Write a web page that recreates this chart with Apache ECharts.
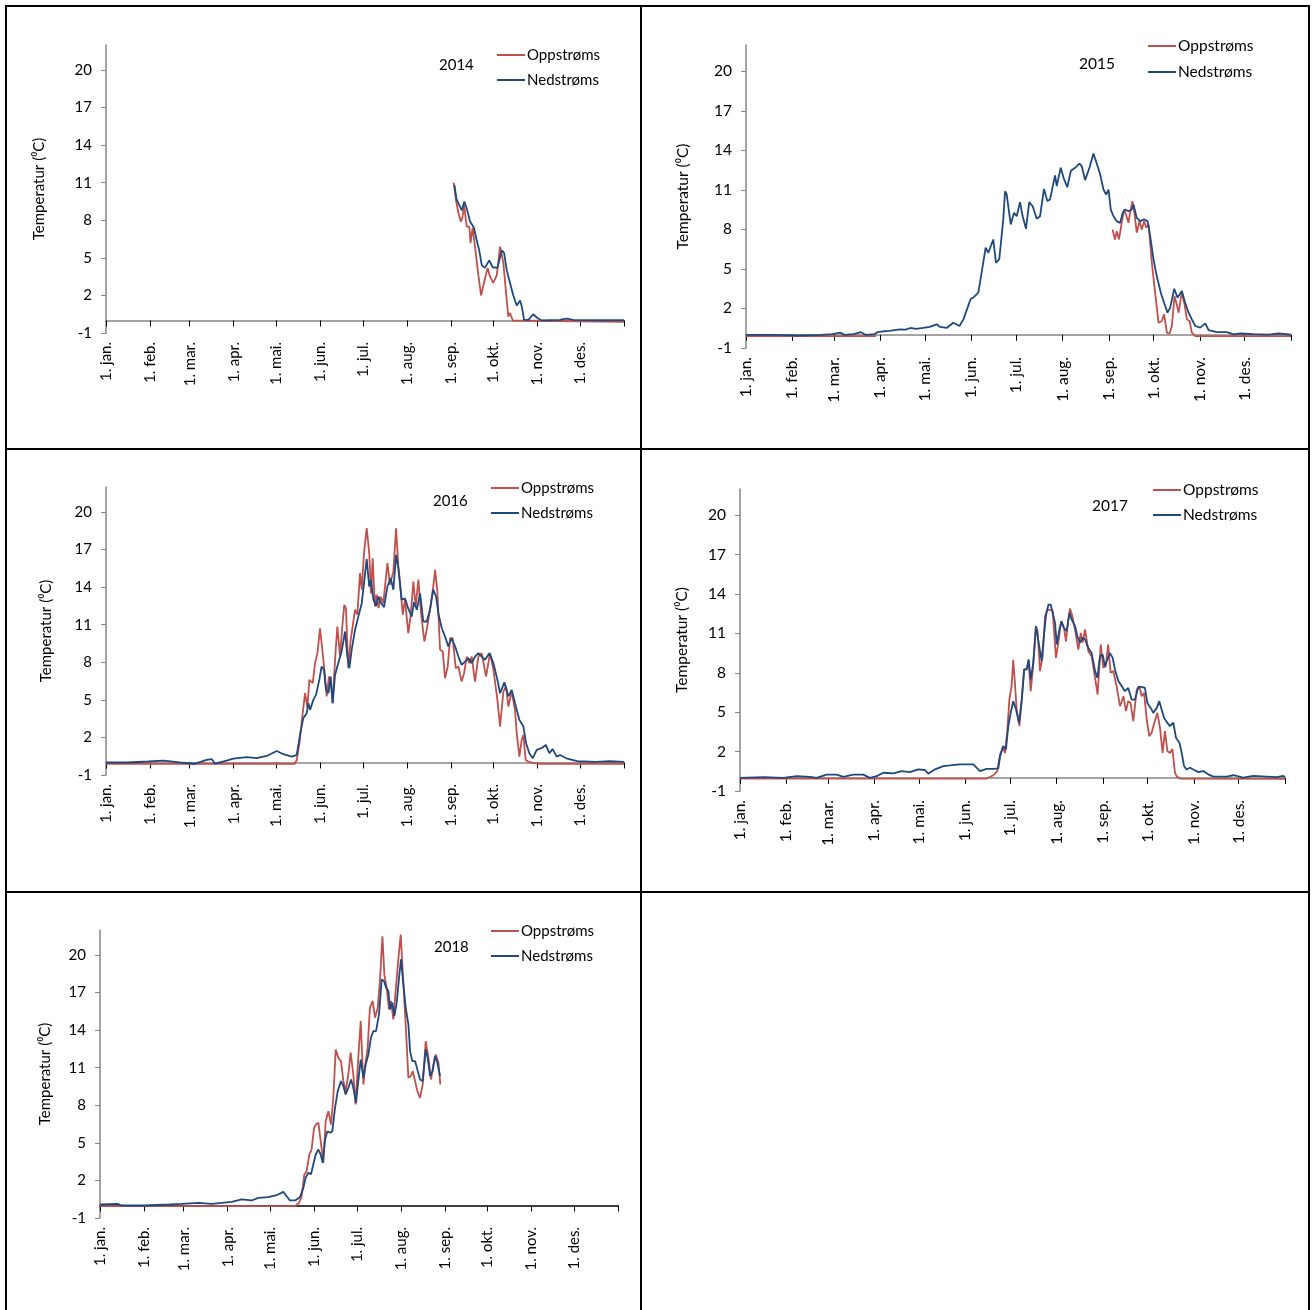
<!DOCTYPE html>
<html><head><meta charset="utf-8">
<script src="https://cdn.jsdelivr.net/npm/echarts@6/dist/echarts.min.js"></script>
<style>html,body{margin:0;padding:0;background:#fff}#c{width:1312px;height:1310px}</style>
</head><body><div id="c"></div>
<script>
// ---------- data ----------
const monthLabels = ['1. jan.','1. feb.','1. mar.','1. apr.','1. mai.','1. jun.','1. jul.','1. aug.','1. sep.','1. okt.','1. nov.','1. des.'];
const monthStarts = [0,31,59,90,120,151,181,212,243,273,304,334];
const yearEnd = 365;
const yTicks = [-1,2,5,8,11,14,17,20];
const years = ['2014','2015','2016','2017','2018'];
const seriesNames = ['Oppstrøms','Nedstrøms'];

// [day of year, temperature °C]
const up2014 = [[245,11.0],[246.6,9.6],[248.3,8.6],[250,7.9],[251.1,8.2],[252.3,9.2],[254.2,7.5],[256,7.5],[256.9,6.2],[258.3,7.4],[260,5.9],[262.4,3.6],[264.3,2.0],[265.9,2.8],[267.1,2.7],[268.9,4.2],[270.6,3.5],[272.9,3.0],[275.3,3.6],[277.7,5.9],[279,5.8],[280,4.6],[281.9,2.2],[283.5,0.3],[284.7,0.6],[286.6,0.0],[288,-0.1],[365,-0.1]];
const down2014 = [[245.5,10.8],[247,9.7],[249,9.2],[250.7,8.8],[252.5,9.5],[253.7,9.1],[255,8.6],[256.5,7.9],[258.2,7.6],[259.3,7.4],[261.2,6.4],[263,5.6],[264.8,4.4],[267,4.2],[270,4.8],[272.5,4.25],[275.8,4.2],[278.9,5.6],[280.5,5.4],[282.4,4.0],[284.7,3.0],[287,2.0],[289.4,1.2],[291.8,1.6],[293,1.1],[294.6,0.05],[297.7,0.05],[301,0.5],[304,0.2],[307,0.0],[320,0.05],[322,0.1],[325,0.15],[329,0.05],[345,0.02],[365,0.02]];

const up2015 = [[0,-0.1],[87,-0.1],null,[245.5,8.0],[247.1,7.24],[248.3,7.87],[249.8,7.24],[251.6,8.5],[253.2,9.51],[254.5,9.13],[256.1,8.5],[257.2,9.26],[258.8,10.15],[260,9.38],[261.7,7.75],[263.5,8.63],[265.1,8.0],[266.6,8.63],[268,8.12],[269.6,8.38],[271.8,5.47],[274,3.2],[276.3,0.92],[278.5,1.05],[280,1.55],[281.9,0.16],[283.6,0.08],[285.2,0.67],[287,2.94],[288.5,2.31],[289.7,1.68],[291.9,3.2],[293.7,2.31],[295.3,1.17],[297.1,1.05],[298.6,0.16],[300.9,-0.09],[365,-0.1]];
const down2015 = [[0,0.0],[20,0.0],[35,-0.05],[50,0.0],[58,0.05],[63,0.17],[66,0.0],[72,0.05],[77,0.2],[80,0.0],[86,0.05],[88,0.2],[92,0.27],[96,0.3],[103,0.42],[107,0.4],[110,0.52],[114,0.45],[118.7,0.52],[123,0.6],[127.7,0.8],[130,0.6],[134.4,0.52],[138.8,0.92],[143,0.67],[145.6,1.17],[150.5,2.74],[152.2,2.82],[155.6,3.2],[157.8,4.72],[159,4.84],[160.5,6.61],[162.3,6.23],[163.4,6.23],[165.6,7.24],[167.4,5.47],[169.6,5.72],[172.3,8.76],[173.5,10.9],[174.6,10.65],[177.3,8.38],[179.5,9.26],[181.3,9.0],[183.5,10.07],[185.3,9.0],[187.5,8.05],[189.7,10.07],[192,9.76],[194.7,8.81],[196.9,9.0],[199.6,11.08],[201.8,10.15],[203.6,10.28],[207,12.1],[208.1,11.3],[210.8,12.68],[213,11.8],[215.2,11.2],[217.5,12.43],[220.4,12.68],[223.3,13.0],[224.9,12.8],[227.1,11.74],[230,12.68],[232.7,13.76],[234.9,13.0],[237.2,12.18],[239.4,11.03],[241.2,10.65],[242.8,11.03],[244.3,9.51],[246.1,9.0],[248.3,8.63],[250.6,8.5],[252.3,9.26],[253.9,9.51],[256.1,9.38],[258.4,9.51],[259.5,9.89],[261.7,8.88],[264,8.63],[266.6,8.76],[268.9,8.63],[270.7,7.49],[272.9,5.72],[275.1,4.46],[277.8,3.2],[280,2.44],[282.3,1.68],[284.1,2.06],[286.8,3.5],[289,2.82],[291.9,3.33],[294.1,2.44],[296.4,1.68],[298.6,1.17],[300.9,0.67],[304.2,0.55],[307.6,0.87],[309.8,0.36],[315.4,0.2],[322,0.2],[326.5,0.04],[331,0.1],[340,0.06],[350,0.02],[356.7,0.1],[358,0.02],[365,0.02]];

const up2016 = [[0,-0.1],[133,-0.1],[134.4,0.2],[136.3,1.54],[138.6,3.94],[140.3,5.54],[141.9,4.4],[143.3,6.6],[145.7,6.33],[147.3,7.93],[149,8.73],[150.8,10.72],[152.7,8.73],[154.3,6.86],[155.5,5.28],[157.1,6.86],[158.3,6.6],[159.7,4.74],[161.4,8.2],[163,10.86],[164.9,8.46],[166.5,10.86],[167.9,12.59],[169.1,12.3],[170.7,7.53],[172.4,9.8],[173.8,10.86],[175.5,12.2],[177.1,11.8],[179,15.12],[180.2,13.8],[181.8,16.72],[183.7,18.71],[185.5,16.72],[186.7,13.5],[187.9,16.3],[189.5,12.46],[190.7,13.4],[192.1,12.33],[193.5,13.25],[195.4,12.72],[198.3,15.92],[200.1,14.2],[202.5,15.26],[204.4,18.71],[206,15.66],[207.2,14.32],[209.1,11.8],[210.7,13.0],[213,10.33],[214.6,11.65],[216.6,14.45],[218.2,12.46],[220.1,14.6],[222,11.9],[224.3,9.66],[226,10.6],[228.3,12.2],[230.6,14.05],[231.9,15.38],[233.5,13.65],[235.4,9.0],[237.3,8.86],[238.9,6.73],[240.8,7.66],[242.4,9.92],[244.3,9.92],[246.4,7.53],[248.3,7.66],[250.6,6.46],[252.3,7.13],[254.2,8.46],[256,7.93],[257.7,8.46],[260,6.46],[262.4,8.46],[264.7,8.73],[267.8,6.86],[270.6,8.73],[273,7.4],[275.8,5.0],[277.7,2.87],[280,5.67],[281.9,6.07],[283.5,4.47],[285.9,5.67],[288.2,4.2],[289.4,2.34],[291.3,0.47],[292.9,1.8],[294.1,2.2],[295.7,0.2],[297.6,0.07],[301.2,-0.05],[305,-0.1],[365,-0.1]];
const down2016 = [[0,0],[15,0.0],[29.8,0.08],[40.4,0.15],[52,0.0],[62.7,-0.1],[71,0.2],[74.6,0.26],[76.8,-0.1],[85,0.15],[89.7,0.31],[99.1,0.42],[106.2,0.34],[113.2,0.52],[120.3,0.92],[125,0.66],[130.8,0.47],[134.4,0.6],[136.7,2.2],[139,3.54],[141.4,3.94],[142.6,4.74],[143.8,4.2],[146.1,5.0],[148,5.4],[150.3,6.6],[151.9,7.66],[153.6,7.4],[155,5.8],[156.7,5.54],[158.3,6.86],[159.7,4.74],[161.4,6.99],[163,7.66],[164.4,7.66],[166,8.86],[168.4,10.46],[170.1,8.46],[171.5,7.53],[173.1,8.99],[175.5,10.6],[177.8,11.65],[180.2,12.72],[181.8,14.32],[183.7,16.24],[185.5,14.05],[186.7,14.6],[188.4,13.0],[190.3,12.5],[191.9,13.25],[193.5,12.8],[195.9,12.4],[198.3,14.05],[200.6,14.72],[202.5,13.8],[204.4,16.58],[206,15.5],[208.3,13.0],[210.7,13.1],[213,12.3],[215.4,11.65],[217,12.8],[219,12.2],[221.3,13.5],[223.6,11.26],[226,11.26],[228.3,12.2],[230.6,13.8],[232.6,13.25],[234.2,11.9],[236.6,10.72],[238.9,10.06],[241.2,9.26],[243.6,9.92],[246,9.26],[248.3,8.46],[250.6,7.8],[253,8.06],[255.4,8.33],[257.7,7.93],[260,8.46],[262.4,8.73],[264.7,8.46],[267.1,8.2],[270.1,8.73],[273,7.93],[275.8,6.6],[277.7,5.53],[280.7,6.4],[283.5,5.28],[285.9,5.8],[288.2,4.74],[291.3,3.4],[294.1,2.87],[296,1.54],[298.3,0.74],[300.7,0.34],[303.5,1.0],[306.8,1.14],[309.9,1.4],[312.4,0.74],[314.7,1.07],[317.6,0.47],[320,0.6],[325,0.3],[332,0.1],[345,0.05],[355,0.1],[365,0.05]];

const up2017 = [[0,-0.05],[165.2,-0.05],[169.7,0.2],[172.3,0.52],[174.2,1.8],[176,2.3],[177.5,1.9],[179.1,3.7],[180.4,5.97],[181.9,6.99],[183,9.0],[184.1,7.24],[185.3,5.2],[187.1,3.94],[188.7,5.96],[190.2,8.26],[192,8.26],[193.3,8.9],[194.7,6.6],[196.4,8.63],[198.2,11.55],[199.3,11.2],[200.9,8.13],[202.7,9.26],[204.3,12.3],[205.8,12.8],[207.6,12.8],[209.4,12.7],[211.6,9.14],[213.2,10.3],[215,11.92],[217,11.4],[218.3,10.4],[219.9,12.06],[221,12.9],[222.6,12.3],[224.4,11.3],[226.6,9.77],[228.2,11.04],[229.5,10.3],[231.1,11.3],[233.3,9.64],[235.5,9.26],[237.8,7.62],[239.5,6.35],[241.6,10.16],[243.3,8.38],[244.9,8.5],[246.6,10.16],[248.2,8.0],[250,8.13],[252.2,6.99],[254.5,5.46],[256.8,6.22],[258.5,5.08],[260,5.84],[261.6,5.71],[263.4,4.31],[265.7,6.72],[267.5,6.98],[269,6.22],[270.6,6.47],[272.4,4.44],[274.1,3.18],[275.7,3.43],[277.5,4.2],[279.5,4.95],[281.3,3.81],[283,1.9],[284.6,3.56],[286.2,2.05],[288,1.9],[289.6,2.2],[291.3,0.39],[292.4,0.13],[294.7,-0.05],[365,-0.08]];
const down2017 = [[0,0],[15.6,0.05],[29,0],[38,0.13],[46.9,0.08],[51.3,0],[58,0.25],[64.7,0.25],[69.2,0.08],[75.9,0.25],[82.6,0.25],[87,0],[91.5,0.13],[96,0.39],[102.7,0.34],[108.3,0.52],[113.8,0.44],[119.4,0.65],[123.9,0.6],[126.1,0.32],[130.6,0.65],[136.2,0.9],[140.6,0.95],[147.3,1.03],[151.8,1.03],[156.3,1.03],[157.4,1.1],[160.7,0.52],[165.2,0.69],[169.7,0.69],[173,0.72],[174.2,1.66],[176.3,2.42],[178.1,2.17],[179.7,3.94],[181.3,4.96],[183,5.84],[184.6,5.33],[186.9,4.2],[188.7,5.96],[190.4,8.26],[192,8.26],[193.3,9.02],[194.7,7.5],[196.4,8.76],[198.2,11.55],[199.1,11.55],[200.4,10.03],[202,8.9],[203.6,10.9],[205,12.44],[206.6,13.2],[208.1,13.2],[209.4,13.33],[211,11.8],[212.1,10.16],[213.9,11.3],[215.4,11.92],[217,11.4],[218.8,11.17],[220.6,12.57],[222.1,12.06],[224.4,11.55],[225.9,10.8],[227.7,10.29],[229.5,10.67],[231.1,10.54],[233.3,9.9],[235.5,9.5],[237.8,8.13],[239.3,7.62],[241.1,9.26],[242.9,9.39],[244.4,8.5],[246,9.0],[247.8,9.5],[249.6,9.14],[251.1,8.24],[253.4,7.37],[255.6,6.99],[257.8,6.6],[260,6.85],[262.3,5.96],[264.5,5.96],[266.8,6.93],[269,6.93],[271.2,6.85],[272.8,5.71],[275,5.33],[276.8,4.95],[279.1,5.33],[280.8,5.84],[282.4,5.2],[284,4.57],[285.8,4.25],[288,3.94],[290.2,4.2],[292,3.05],[294.3,2.67],[295.8,1.91],[297.4,0.9],[299.1,0.64],[301.4,0.77],[303.6,0.64],[307,0.44],[310.3,0.52],[313.6,0.27],[317,0.1],[326,0.1],[330.4,0.2],[337,0.02],[343.8,0.15],[352.7,0.1],[359.4,0.05],[363.9,0.15],[365,0.05]];

const up2018 = [[0,-0.05],[137.4,-0.05],[140.2,0.2],[142.1,0.74],[144,2.48],[145.6,2.74],[147.5,4.07],[149.1,4.47],[150.8,6.2],[152.2,6.47],[153.9,6.6],[155.5,5.13],[157.4,3.41],[159,6.73],[160.9,7.53],[162.8,6.47],[164.4,8.6],[166.1,12.46],[167.9,11.8],[169.8,11.53],[171.5,9.93],[173.1,9.13],[175,10.46],[176.6,12.2],[178.5,10.46],[180.1,8.06],[182,11.8],[183.7,14.72],[185.6,9.66],[186.7,11.0],[188.6,12.6],[190.2,15.79],[192.1,16.33],[193.8,15],[195.7,15.79],[197.3,18.05],[199,21.5],[200.4,18.4],[202,17.4],[203.6,15.66],[205.1,16.33],[206.7,14.86],[208.4,17.25],[210.3,19.78],[211.9,21.64],[213.8,17.65],[215.4,14.46],[217.3,10.2],[219,10.33],[220.4,10.73],[222,9.93],[223.6,9.13],[225.5,8.6],[227.4,9.66],[229.5,13.12],[231.4,11.8],[233.3,10.06],[234.9,11.26],[236.6,12.06],[238.5,11.4],[239.8,9.66]];
const down2018 = [[0,0.08],[12.4,0.13],[15.3,0],[31.7,0],[49.3,0.08],[57.6,0.13],[69.3,0.21],[78.7,0.13],[85.8,0.21],[92.8,0.29],[99.8,0.48],[106.9,0.4],[111.6,0.61],[118.6,0.66],[124.5,0.82],[129.2,1.09],[131.5,0.74],[133.9,0.4],[137.4,0.4],[140.9,0.66],[143.3,1.41],[144.9,2.21],[146.8,2.61],[148.7,2.5],[150.3,3.27],[152,4.07],[153.9,4.47],[155.5,4.07],[156.9,3.41],[158.6,5.27],[160.2,5.93],[162.1,5.8],[163.7,5.93],[165.6,7.8],[167.5,9.13],[169.8,9.93],[171.5,9.53],[173.1,8.87],[175,9.4],[176.9,10.06],[178.5,9.4],[180.4,8.2],[182,9.93],[183.7,11.66],[185.6,10.2],[187.2,11.26],[189.1,12.06],[190.9,13.39],[192.6,13.93],[194.5,13.93],[196.6,15.26],[198.5,18.05],[200.1,17.92],[201.6,17.39],[203.2,17.12],[204.4,15.66],[206,16.2],[207.4,15.13],[209.1,16.2],[210.7,18.2],[212.1,19.65],[213.8,17.65],[215.4,15.8],[217.3,14.46],[218.5,12.33],[220.1,11.53],[222,11.53],[223.9,10.73],[225.5,10.06],[227.4,9.93],[229.5,12.46],[230.9,11.8],[232.6,10.33],[234.4,10.73],[236.1,11.93],[237.7,11.4],[239.6,10.33]];

const upData = [up2014, up2015, up2016, up2017, up2018];
const downData = [down2014, down2015, down2016, down2017, down2018];

// ---------- layout (pixels) ----------
const layout = [
  {left:106, top:45,  width:518, height:288, nameGap:59, fs:15,   legL:497,  legT:46,  gap:7,  yrL:439,  yrT:58,  xLine:'#868686'},
  {left:746, top:45,  width:545, height:303, nameGap:55, fs:15.5, legL:1148, legT:37,  gap:8,  yrL:1079, yrT:56,  xLine:'#868686'},
  {left:106, top:487, width:518, height:288, nameGap:52, fs:15,   legL:491,  legT:479, gap:7,  yrL:433,  yrT:494, xLine:'#868686'},
  {left:740, top:489, width:545, height:302, nameGap:50, fs:15.5, legL:1153, legT:481, gap:7,  yrL:1092, yrT:498, xLine:'#868686'},
  {left:100, top:930, width:518, height:288, nameGap:47, fs:15,   legL:491,  legT:922, gap:7,  yrL:434,  yrT:940, xLine:'#000000'}
];
const RED = '#C0504D', BLUE = '#1F497D';
const FONT = 'Lato, "Liberation Sans", sans-serif';

const grids = [], xAxes = [], yAxes = [], series = [], legends = [], titles = [];
layout.forEach((L, i) => {
  grids.push({left:L.left, top:L.top, width:L.width, height:L.height, containLabel:false});
  xAxes.push({
    type:'value', gridIndex:i, min:0, max:yearEnd,
    axisLine:{show:true, onZero:true, lineStyle:{color:L.xLine, width:1.5}},
    axisTick:{show:true, length:6, customValues: monthStarts.concat([yearEnd]), lineStyle:{color:'#000', width:1}},
    axisLabel:{show:true, rotate:90, margin:9, fontSize:L.fs, color:'#000', fontFamily:FONT,
      customValues: monthStarts,
      formatter: v => { const k = monthStarts.indexOf(Math.round(v)); return k >= 0 ? monthLabels[k] : ''; }},
    splitLine:{show:false}
  });
  yAxes.push({
    type:'value', gridIndex:i, min:-1, max:22,
    name:'Temperatur (⁰C)', nameLocation:'middle', nameGap:L.nameGap, nameRotate:90,
    nameTextStyle:{fontSize:L.fs, color:'#000', fontFamily:FONT},
    axisLine:{show:true, onZero:false, lineStyle:{color:'#868686', width:1.5}},
    axisTick:{show:true, length:5, customValues: yTicks, lineStyle:{color:'#868686', width:1}},
    axisLabel:{show:true, margin:14, fontSize:L.fs, color:'#000', fontFamily:FONT, customValues: yTicks},
    splitLine:{show:false}
  });
  series.push({
    name:seriesNames[0], type:'line', xAxisIndex:i, yAxisIndex:i, data:upData[i],
    showSymbol:false, symbol:'none', connectNulls:false, lineStyle:{color:RED, width:1.8}, itemStyle:{color:RED}, z:2
  });
  series.push({
    name:seriesNames[1], type:'line', xAxisIndex:i, yAxisIndex:i, data:downData[i],
    showSymbol:false, symbol:'none', lineStyle:{color:BLUE, width:1.8}, itemStyle:{color:BLUE}, z:3
  });
  legends.push({
    left:L.legL, top:L.legT, orient:'vertical', padding:0, itemGap:L.gap,
    itemWidth:28, itemHeight:2, icon:'rect', data:seriesNames, selectedMode:false,
    textStyle:{fontSize:L.fs, lineHeight:18, color:'#000', fontFamily:FONT, padding:[0,0,0,-3]}
  });
  titles.push({text:years[i], left:L.yrL, top:L.yrT, padding:0,
    textStyle:{fontSize:L.fs, fontWeight:'normal', color:'#000', fontFamily:FONT}});
});

const border = {stroke:'#000', lineWidth:2};
const option = {
  animation:false,
  backgroundColor:'#fff',
  title: titles, legend: legends, grid: grids, xAxis: xAxes, yAxis: yAxes, series: series,
  graphic: [
    {type:'rect', silent:true, z:-1, shape:{x:6, y:6, width:1303, height:1310}, style:{fill:'none', stroke:'#000', lineWidth:2}},
    {type:'line', silent:true, shape:{x1:641, y1:6, x2:641, y2:1312}, style:border},
    {type:'line', silent:true, shape:{x1:6, y1:449, x2:1309, y2:449}, style:border},
    {type:'line', silent:true, shape:{x1:6, y1:892, x2:1309, y2:892}, style:border}
  ]
};
const chart = echarts.init(document.getElementById('c'), null, {renderer:'canvas'});
chart.setOption(option);
</script></body></html>
